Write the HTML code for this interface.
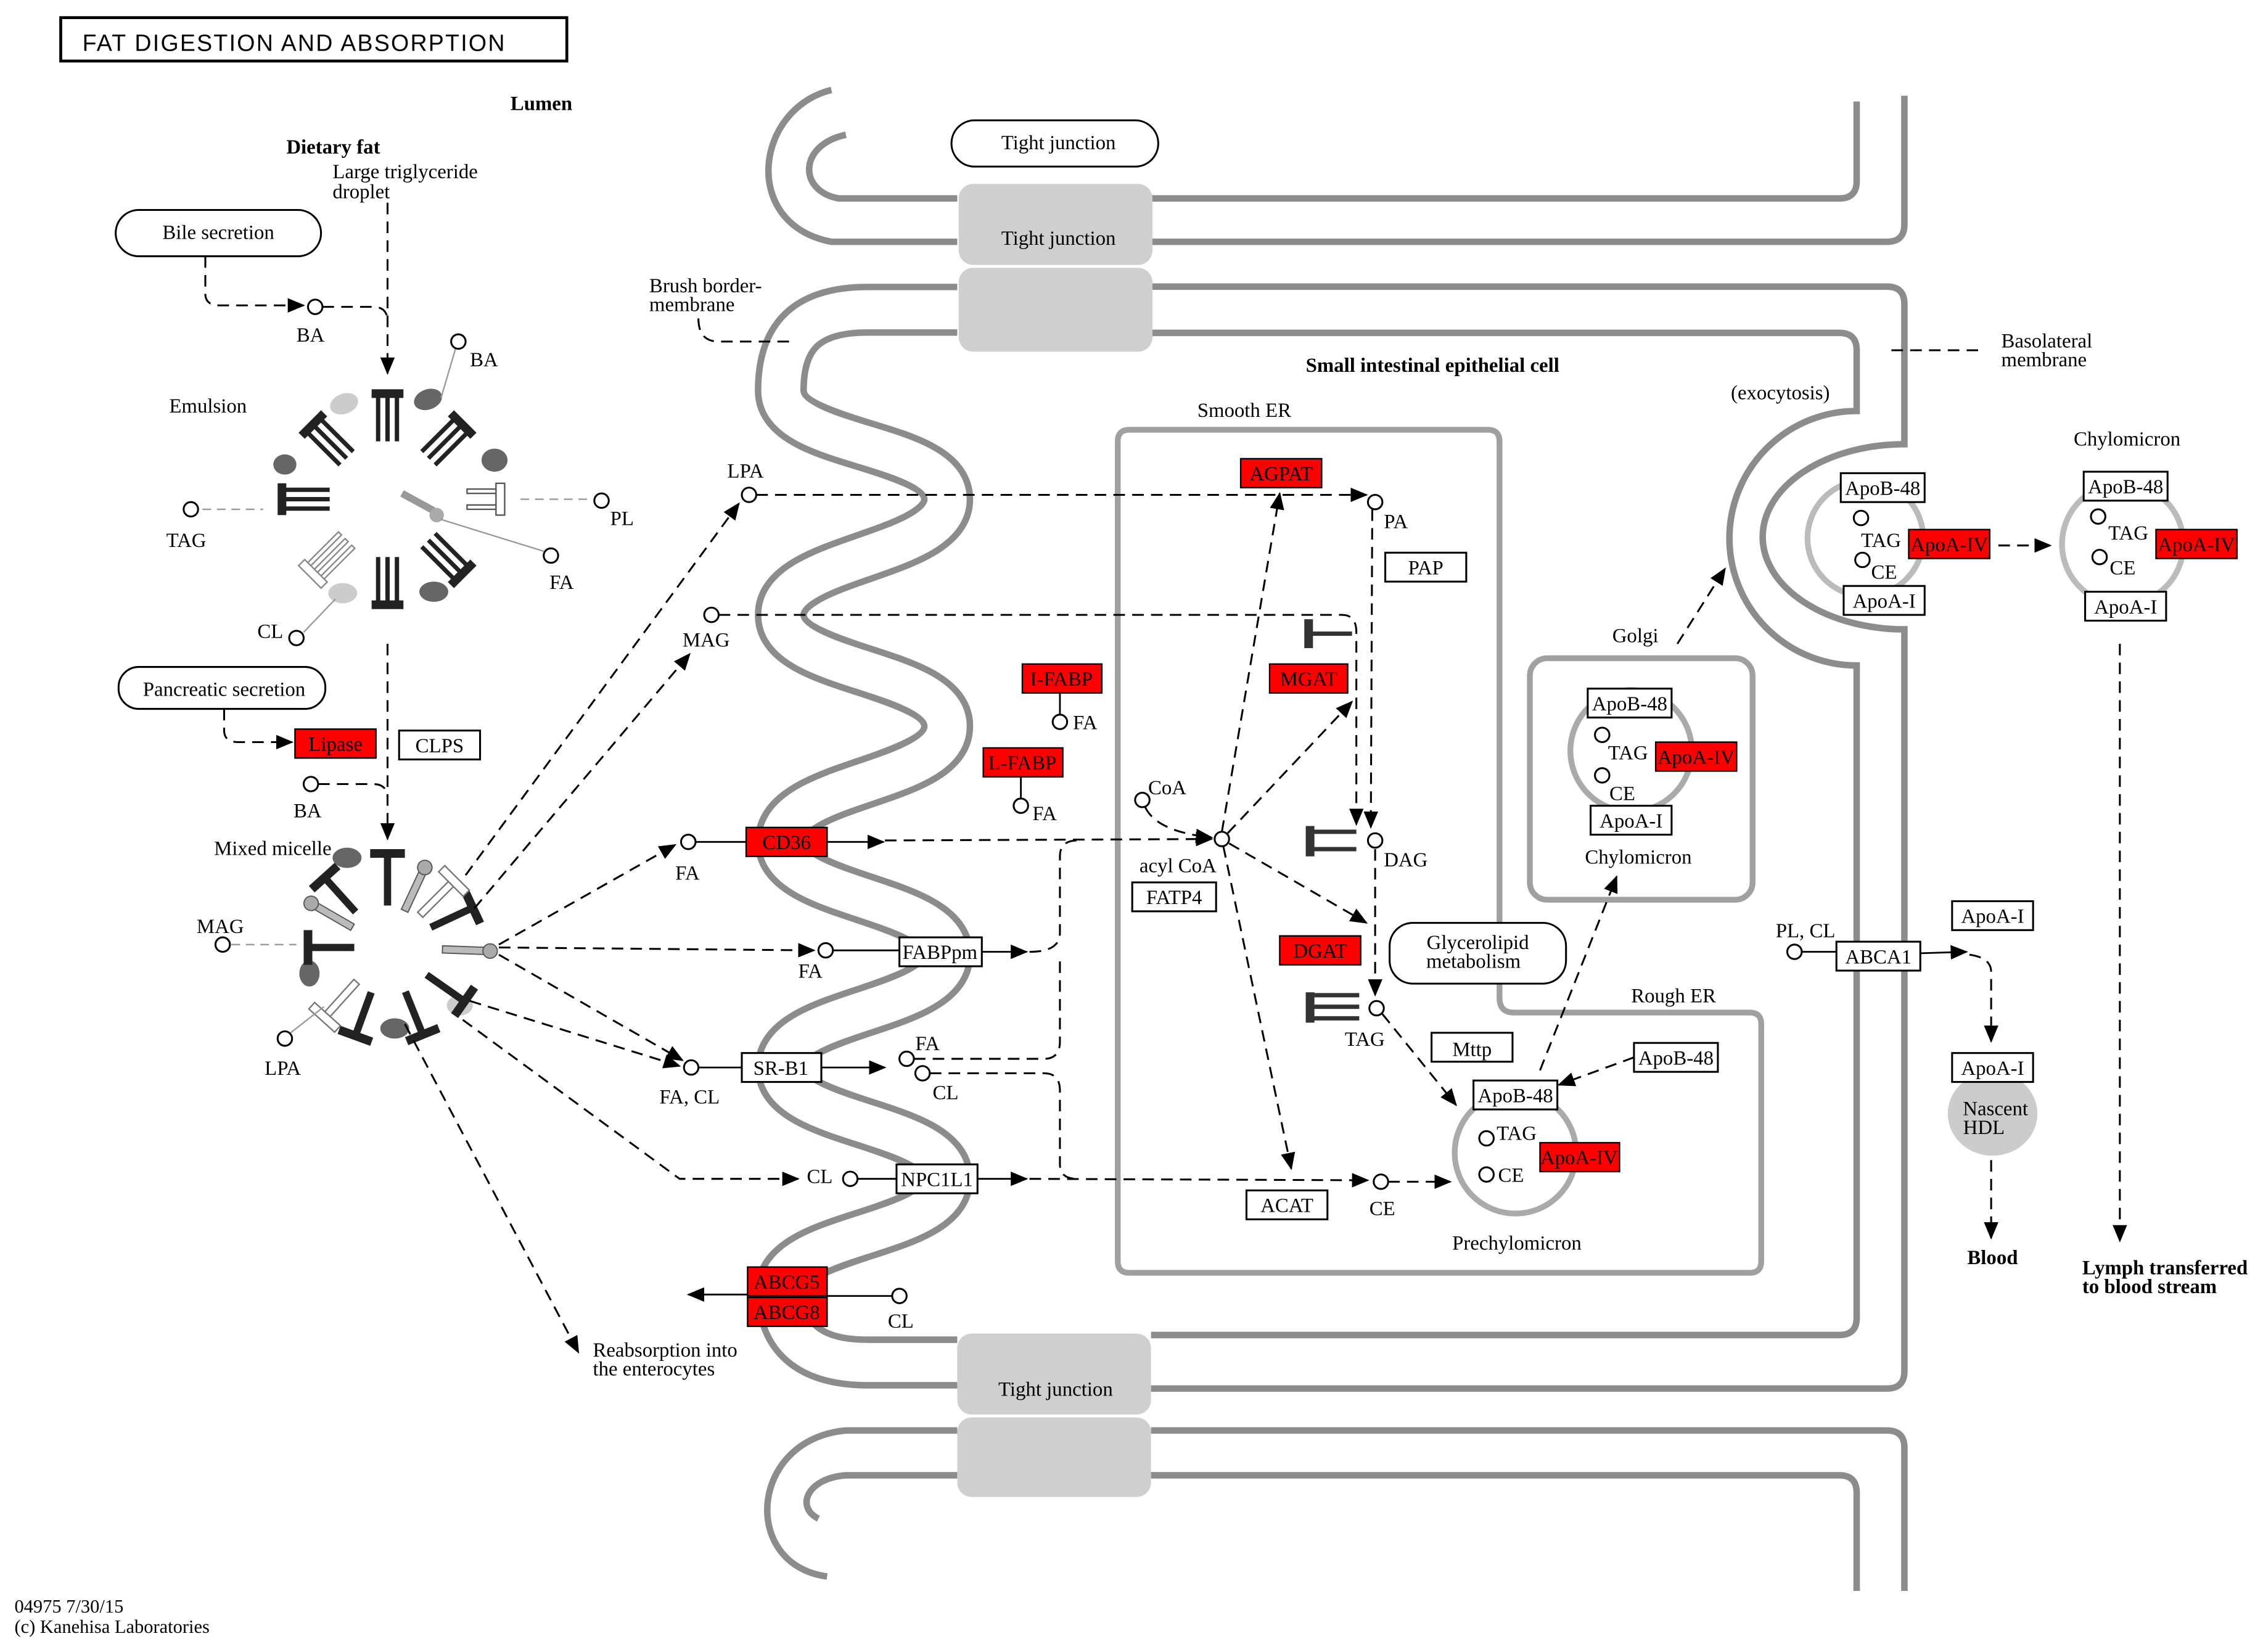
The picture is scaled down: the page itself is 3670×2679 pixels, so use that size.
<!DOCTYPE html>
<html><head><meta charset="utf-8"><style>
html,body{margin:0;padding:0;background:#fff;}
svg{display:block;}
text{font-family:"Liberation Serif",serif;font-size:14px;fill:#000;}
.b{font-weight:bold;}
.c{text-anchor:middle;}
.bx{fill:#fff;stroke:#000;stroke-width:1.3;}
.rd{fill:#f00;stroke:#000;stroke-width:1;}
.rt{fill:#000;}
.d{fill:none;stroke:#000;stroke-width:1.3;stroke-dasharray:8,5;}
.s{fill:none;stroke:#000;stroke-width:1.2;}
.cir{fill:#fff;stroke:#000;stroke-width:1.3;}
.mem{fill:none;stroke:#8c8c8c;stroke-width:4.5;}
.er{fill:none;stroke:#a0a0a0;stroke-width:4;}
.tj{fill:#cfcfcf;}
</style></head><body>
<svg width="3670" height="2679" viewBox="0 0 1565 1142" xmlns="http://www.w3.org/2000/svg">
<defs>
<marker id="a" viewBox="0 0 12 10" refX="11" refY="5" markerWidth="12" markerHeight="10" markerUnits="userSpaceOnUse" orient="auto"><path d="M0,0 L12,5 L0,10 z" fill="#000"/></marker>
</defs>

<!-- Title -->
<rect x="42" y="12" width="350" height="30" fill="#fff" stroke="#000" stroke-width="2"/>
<text x="57" y="35" style="font-family:'Liberation Sans',sans-serif;font-size:16px" textLength="292">FAT DIGESTION AND ABSORPTION</text>
<text x="353" y="76" class="b">Lumen</text>

<!-- Membranes -->
<path class="mem" d="M575,62 C522,75 512,155 575,167 L662,167"/>
<path class="mem" d="M585,93 C552,100 552,132 580,137 L662,137"/>
<path d="M662,214 L600,214 C555,214 540,235 540,270 C540,310 655,305 655,345 C655,385 540,385 540,425 C540,465 655,462 655,502 C655,542 540,540 540,582 C540,622 655,620 655,660 C655,700 540,698 540,738 C540,778 655,775 655,815 C655,855 540,852 540,892 C540,925 560,942 600,942 L662,942" fill="none" stroke="#8c8c8c" stroke-width="36"/>
<path d="M662,214 L600,214 C555,214 540,235 540,270 C540,310 655,305 655,345 C655,385 540,385 540,425 C540,465 655,462 655,502 C655,542 540,540 540,582 C540,622 655,620 655,660 C655,700 540,698 540,738 C540,778 655,775 655,815 C655,855 540,852 540,892 C540,925 560,942 600,942 L662,942" fill="none" stroke="#fff" stroke-width="27"/>
<path class="mem" d="M662,989 L585,989 C518,995 512,1082 572,1090"/>
<path class="mem" d="M662,1020 L585,1020 C558,1022 550,1042 566,1050"/>
<!-- right side membranes -->
<path class="mem" d="M796,137 L1272,137 Q1284,137 1284,125 L1284,70"/>
<path class="mem" d="M796,167 L1305,167 Q1317,167 1317,155 L1317,66"/>
<path class="mem" d="M796,198 L1305,198 Q1317,198 1317,210 L1317,307 A98,64 0 0 0 1317,435 L1317,948 Q1317,960 1305,960 L796,960"/>
<path class="mem" d="M796,230 L1272,230 Q1284,230 1284,242 L1284,284 A88,88 0 0 0 1284,460 L1284,911 Q1284,923 1272,923 L796,923"/>
<path class="mem" d="M796,989 L1305,989 Q1317,989 1317,1001 L1317,1100"/>
<path class="mem" d="M796,1020 L1272,1020 Q1284,1020 1284,1032 L1284,1100"/>
<!-- tight junctions -->
<rect class="tj" x="663" y="127" width="134" height="56" rx="10"/>
<rect class="tj" x="663" y="185" width="134" height="58" rx="10"/>
<rect class="tj" x="662" y="922" width="134" height="56" rx="10"/>
<rect class="tj" x="662" y="980" width="134" height="55" rx="10"/>
<text x="732" y="169" class="c">Tight junction</text>
<text x="730" y="965" class="c">Tight junction</text>
<rect x="658" y="83" width="143" height="32" rx="16" class="bx"/>
<text x="732" y="103" class="c">Tight junction</text>

<!-- ER -->
<path class="er" d="M773,305 Q773,297 781,297 L1029,297 Q1037,297 1037,305 L1037,690 Q1037,700 1047,700 L1210,700 Q1218,700 1218,708 L1218,872 Q1218,880 1210,880 L781,880 Q773,880 773,872 Z"/>
<rect class="er" x="1058" y="455" width="154" height="167" rx="12"/>
<text x="828" y="288">Smooth ER</text>
<text x="1128" y="693">Rough ER</text>
<text x="1115" y="444">Golgi</text>

<!-- Labels -->
<text x="198" y="106" class="b">Dietary fat</text>
<text x="230" y="123">Large triglyceride</text>
<text x="230" y="137">droplet</text>
<text x="903" y="257" class="b">Small intestinal epithelial cell</text>
<text x="1197" y="276">(exocytosis)</text>
<text x="1384" y="240">Basolateral</text>
<text x="1384" y="253">membrane</text>
<path class="d" d="M1308,242 L1372,242"/>
<text x="449" y="202">Brush border-</text>
<text x="449" y="215">membrane</text>
<path class="d" d="M483,220 Q483,236 497,236 L548,236"/>

<!-- Bile secretion -->
<rect x="80" y="145" width="142" height="32" rx="16" class="bx"/>
<text x="151" y="165" class="c">Bile secretion</text>
<path class="d" d="M142,177 L142,203 Q142,211 152,211 L210,211" marker-end="url(#a)"/>
<circle class="cir" cx="218" cy="212" r="5"/>
<text x="205" y="236">BA</text>
<path class="d" d="M223,212 L258,212 Q268,212 268,222"/>
<path class="d" d="M268,140 L268,258" marker-end="url(#a)"/>
<text x="117" y="285">Emulsion</text>

<!-- Emulsion -->
<g id="emul">
<ellipse cx="296" cy="276" rx="10" ry="7" fill="#666" transform="rotate(-20 296 276)"/>
<ellipse cx="238" cy="279" rx="10" ry="7" fill="#ccc" transform="rotate(-20 238 279)"/>
<ellipse cx="197" cy="321" rx="8" ry="7" fill="#666"/>
<ellipse cx="342" cy="318" rx="9" ry="8" fill="#666"/>
<ellipse cx="300" cy="409" rx="10" ry="7" fill="#666"/>
<ellipse cx="237" cy="410" rx="10" ry="7" fill="#ccc"/>
<g transform="translate(268,345)">
 <g><rect x="-11" y="-76" width="22" height="6" fill="#222"/><rect x="-8" y="-72" width="3" height="32" fill="#222"/><rect x="-1.5" y="-72" width="3" height="32" fill="#222"/><rect x="5" y="-72" width="3" height="32" fill="#222"/></g>
 <g transform="rotate(45)"><rect x="-11" y="-76" width="22" height="6" fill="#222"/><rect x="-8" y="-72" width="3" height="32" fill="#222"/><rect x="-1.5" y="-72" width="3" height="32" fill="#222"/><rect x="5" y="-72" width="3" height="32" fill="#222"/></g>
 <g transform="rotate(135)"><rect x="-11" y="-76" width="22" height="6" fill="#222"/><rect x="-8" y="-72" width="3" height="32" fill="#222"/><rect x="-1.5" y="-72" width="3" height="32" fill="#222"/><rect x="5" y="-72" width="3" height="32" fill="#222"/></g>
 <g transform="rotate(180)"><rect x="-11" y="-76" width="22" height="6" fill="#222"/><rect x="-8" y="-72" width="3" height="32" fill="#222"/><rect x="-1.5" y="-72" width="3" height="32" fill="#222"/><rect x="5" y="-72" width="3" height="32" fill="#222"/></g>
 <g transform="rotate(270)"><rect x="-11" y="-76" width="22" height="6" fill="#222"/><rect x="-8" y="-72" width="3" height="32" fill="#222"/><rect x="-1.5" y="-72" width="3" height="32" fill="#222"/><rect x="5" y="-72" width="3" height="32" fill="#222"/></g>
 <g transform="rotate(315)"><rect x="-11" y="-76" width="22" height="6" fill="#222"/><rect x="-8" y="-72" width="3" height="32" fill="#222"/><rect x="-1.5" y="-72" width="3" height="32" fill="#222"/><rect x="5" y="-72" width="3" height="32" fill="#222"/></g>
 <g transform="rotate(225)" fill="#fff" stroke="#888" stroke-width="1"><rect x="-11" y="-76" width="22" height="6"/><rect x="-8" y="-70" width="3" height="30"/><rect x="-1.5" y="-70" width="3" height="30"/><rect x="5" y="-70" width="3" height="30"/></g>
 <g transform="rotate(90)" fill="#fff" stroke="#555" stroke-width="1"><rect x="-11" y="-81" width="22" height="6"/><rect x="-7" y="-75" width="3" height="20"/><rect x="4" y="-75" width="3" height="20"/></g>
 <path d="M10,-4 L32,8" stroke="#999" stroke-width="5"/><circle cx="34" cy="11" r="5" fill="#aaa"/>
</g>
</g>
<line x1="305" y1="275" x2="315" y2="241" stroke="#999"/>
<circle class="cir" cx="317" cy="236" r="5"/><text x="325" y="253">BA</text>
<path d="M140,352 L182,352" stroke="#999" stroke-dasharray="6,4"/>
<circle class="cir" cx="132" cy="352" r="5"/><text x="115" y="378">TAG</text>
<path d="M360,345 L410,345" stroke="#999" stroke-dasharray="6,4"/>
<circle class="cir" cx="416" cy="346" r="5"/><text x="422" y="363">PL</text>
<line x1="305" y1="359" x2="376" y2="381" stroke="#999"/>
<circle class="cir" cx="381" cy="384" r="5"/><text x="380" y="407">FA</text>
<line x1="232" y1="414" x2="210" y2="437" stroke="#999"/>
<circle class="cir" cx="205" cy="441" r="5"/><text x="178" y="441">CL</text>
<path class="d" d="M268,445 L268,580" marker-end="url(#a)"/>

<!-- Pancreatic -->
<rect x="82" y="461" width="143" height="29" rx="14" class="bx"/>
<text x="155" y="481" class="c">Pancreatic secretion</text>
<path class="d" d="M155,490 L155,505 Q155,513 165,513 L202,513" marker-end="url(#a)"/>
<rect class="rd" x="204" y="504" width="56" height="20"/><text x="232" y="519" class="c rt" style="fill:#000">Lipase</text>
<rect class="bx" x="276" y="505" width="56" height="20"/><text x="304" y="520" class="c">CLPS</text>
<circle class="cir" cx="215" cy="542" r="5"/><text x="203" y="565">BA</text>
<path class="d" d="M220,542 L258,542 Q268,542 268,552"/>
<text x="148" y="591">Mixed micelle</text>

<!-- Mixed micelle -->
<ellipse cx="240" cy="593" rx="10" ry="7" fill="#666"/>
<ellipse cx="214" cy="673" rx="7" ry="9" fill="#666"/>
<ellipse cx="273" cy="711" rx="10" ry="7" fill="#666"/>
<ellipse cx="318" cy="695" rx="9" ry="7" fill="#ccc"/>
<g transform="translate(268,655)">
 <g><rect x="-12" y="-68" width="24" height="6" fill="#222"/><rect x="-2.5" y="-63" width="5" height="34" fill="#222"/></g>
 <g transform="rotate(65)"><rect x="-12" y="-68" width="24" height="6" fill="#222"/><rect x="-2.5" y="-63" width="5" height="30" fill="#222"/></g>
 <g transform="rotate(125)"><rect x="-12" y="-68" width="24" height="6" fill="#222"/><rect x="-2.5" y="-63" width="5" height="30" fill="#222"/></g>
 <g transform="rotate(158)"><rect x="-12" y="-68" width="24" height="6" fill="#222"/><rect x="-2.5" y="-63" width="5" height="30" fill="#222"/></g>
 <g transform="rotate(200)"><rect x="-12" y="-68" width="24" height="6" fill="#222"/><rect x="-2.5" y="-63" width="5" height="30" fill="#222"/></g>
 <g transform="rotate(270)"><rect x="-12" y="-58" width="24" height="6" fill="#222"/><rect x="-2.5" y="-53" width="5" height="30" fill="#222"/></g>
 <g transform="rotate(318)"><rect x="-12" y="-68" width="24" height="6" fill="#222"/><rect x="-2.5" y="-63" width="5" height="30" fill="#222"/></g>
 <g transform="rotate(45)" fill="#fff" stroke="#777"><rect x="-12" y="-68" width="24" height="6"/><rect x="-2.5" y="-62" width="5" height="30"/></g>
 <g transform="rotate(222)" fill="#fff" stroke="#777"><rect x="-12" y="-68" width="24" height="6"/><rect x="-2.5" y="-62" width="5" height="30"/></g>
 <g transform="rotate(25)"><rect x="-2.5" y="-58" width="5" height="30" fill="#bbb" stroke="#555" stroke-width="0.8"/><circle cx="0" cy="-61" r="5" fill="#aaa" stroke="#555" stroke-width="0.8"/></g>
 <g transform="rotate(92)"><rect x="-2.5" y="-68" width="5" height="30" fill="#bbb" stroke="#555" stroke-width="0.8"/><circle cx="0" cy="-71" r="5" fill="#aaa" stroke="#555" stroke-width="0.8"/></g>
 <g transform="rotate(300)"><rect x="-2.5" y="-58" width="5" height="30" fill="#bbb" stroke="#555" stroke-width="0.8"/><circle cx="0" cy="-61" r="5" fill="#aaa" stroke="#555" stroke-width="0.8"/></g>
</g>
<text x="136" y="645">MAG</text><circle class="cir" cx="154" cy="653" r="5"/>
<path d="M160,653 L205,653" stroke="#999" stroke-dasharray="6,4"/>
<circle class="cir" cx="197" cy="718" r="5"/><text x="183" y="743">LPA</text>
<line x1="201" y1="714" x2="224" y2="696" stroke="#999"/>

<!-- micelle outgoing -->
<path class="d" d="M322,605 L511,348" marker-end="url(#a)"/>
<path class="d" d="M328,628 L477,452" marker-end="url(#a)"/>
<path class="d" d="M345,653 L467,584" marker-end="url(#a)"/>
<path class="d" d="M345,655 L563,657" marker-end="url(#a)"/>
<path class="d" d="M345,660 L472,733" marker-end="url(#a)"/>
<path class="d" d="M325,692 L470,737" marker-end="url(#a)"/>
<path class="d" d="M320,705 L470,815 L552,815" marker-end="url(#a)"/>
<path class="d" d="M280,708 L400,935" marker-end="url(#a)"/>
<text x="410" y="938">Reabsorption into</text>
<text x="410" y="951">the enterocytes</text>

<!-- LPA -->
<circle class="cir" cx="518" cy="342" r="5"/><text x="503" y="330">LPA</text>
<path class="d" d="M523,342 L945,342" marker-end="url(#a)"/>
<!-- MAG -->
<circle class="cir" cx="492" cy="425" r="5"/><text x="472" y="447">MAG</text>
<path class="d" d="M497,425 L928,425 Q938,425 938,437 L938,570" marker-end="url(#a)"/>

<!-- FA / CD36 -->
<circle class="cir" cx="476" cy="582" r="5"/><text x="467" y="608">FA</text>
<line class="s" x1="481" y1="582" x2="516" y2="582"/>
<rect class="rd" x="516" y="572" width="56" height="20"/><text x="544" y="587" class="c">CD36</text>
<path class="s" d="M572,582 L611,582" marker-end="url(#a)"/>
<path class="d" d="M612,581 L838,580" marker-end="url(#a)"/>
<!-- FABPpm -->
<circle class="cir" cx="571" cy="657" r="5"/><text x="552" y="676">FA</text>
<line class="s" x1="576" y1="657" x2="622" y2="657"/>
<rect class="bx" x="622" y="648" width="57" height="20"/><text x="650" y="663" class="c">FABPpm</text>
<path class="s" d="M679,658 L710,658" marker-end="url(#a)"/>
<path class="d" d="M712,658 Q733,658 733,645 L733,592 Q733,581 745,581"/>
<!-- SR-B1 -->
<circle class="cir" cx="478" cy="738" r="5"/><text x="456" y="763">FA, CL</text>
<line class="s" x1="483" y1="738" x2="513" y2="738"/>
<rect class="bx" x="513" y="728" width="55" height="20"/><text x="540" y="743" class="c">SR-B1</text>
<path class="s" d="M568,738 L612,738" marker-end="url(#a)"/>
<circle class="cir" cx="627" cy="732" r="5"/><text x="633" y="726">FA</text>
<circle class="cir" cx="638" cy="742" r="5"/><text x="645" y="760">CL</text>
<path class="d" d="M632,732 L722,732 Q733,732 733,720 L733,660"/>
<path class="d" d="M643,742 L722,742 Q733,742 733,754 L733,805 Q733,815 745,815"/>
<!-- NPC1L1 -->
<text x="558" y="818">CL</text><circle class="cir" cx="588" cy="815" r="5"/>
<line class="s" x1="593" y1="815" x2="620" y2="815"/>
<rect class="bx" x="620" y="805" width="56" height="20"/><text x="648" y="820" class="c">NPC1L1</text>
<path class="s" d="M676,815 L710,815" marker-end="url(#a)"/>
<path class="d" d="M712,815 L946,816" marker-end="url(#a)"/>
<circle class="cir" cx="955" cy="817" r="5"/><text x="947" y="840">CE</text>
<path class="d" d="M960,817 L1003,817" marker-end="url(#a)"/>
<!-- ABCG -->
<rect class="rd" x="517" y="876" width="55" height="20"/><text x="544" y="891" class="c">ABCG5</text>
<rect class="rd" x="517" y="897" width="55" height="20"/><text x="544" y="912" class="c">ABCG8</text>
<circle class="cir" cx="622" cy="896" r="5"/><text x="614" y="918">CL</text>
<line class="s" x1="617" y1="896" x2="572" y2="896"/>
<path class="s" d="M517,895 L476,895" marker-end="url(#a)"/>

<!-- FABPs -->
<rect class="rd" x="707" y="459" width="55" height="20"/><text x="734" y="474" class="c">I-FABP</text>
<line class="s" x1="733" y1="479" x2="733" y2="494"/><circle class="cir" cx="733" cy="499" r="5"/><text x="742" y="504">FA</text>
<rect class="rd" x="680" y="517" width="55" height="20"/><text x="707" y="532" class="c">L-FABP</text>
<line class="s" x1="706" y1="537" x2="706" y2="552"/><circle class="cir" cx="706" cy="557" r="5"/><text x="714" y="567">FA</text>

<!-- Smooth ER content -->
<rect class="rd" x="858" y="317" width="56" height="20"/><text x="886" y="332" class="c">AGPAT</text>
<circle class="cir" cx="951" cy="347" r="5"/><text x="957" y="365">PA</text>
<rect class="bx" x="958" y="382" width="56" height="20"/><text x="986" y="397" class="c">PAP</text>
<path class="d" d="M949,352 L948,572" marker-end="url(#a)"/>
<rect x="902" y="428" width="6" height="20" fill="#333"/><line x1="905" y1="438" x2="935" y2="438" stroke="#333" stroke-width="3"/>
<rect class="rd" x="878" y="459" width="54" height="20"/><text x="905" y="474" class="c">MGAT</text>
<circle class="cir" cx="790" cy="553" r="5"/><text x="794" y="549">CoA</text>
<path class="d" d="M792,558 Q800,575 838,579" marker-end="url(#a)"/>
<circle class="cir" cx="845" cy="580" r="5"/><text x="788" y="603">acyl CoA</text>
<rect class="bx" x="783" y="610" width="58" height="20"/><text x="812" y="625" class="c">FATP4</text>
<path class="d" d="M845,575 L885,341" marker-end="url(#a)"/>
<path class="d" d="M849,576 L935,485" marker-end="url(#a)"/>
<path class="d" d="M850,583 L945,638" marker-end="url(#a)"/>
<path class="d" d="M846,585 L893,808" marker-end="url(#a)"/>
<rect x="903" y="571" width="6" height="21" fill="#333"/><line x1="906" y1="575" x2="938" y2="575" stroke="#333" stroke-width="3"/><line x1="906" y1="587" x2="938" y2="587" stroke="#333" stroke-width="3"/>
<circle class="cir" cx="951" cy="581" r="5"/><text x="957" y="599">DAG</text>
<path class="d" d="M951,587 L951,688" marker-end="url(#a)"/>
<rect class="rd" x="885" y="647" width="56" height="20"/><text x="913" y="662" class="c">DGAT</text>
<rect x="903" y="686" width="6" height="21" fill="#333"/><line x1="906" y1="688" x2="940" y2="688" stroke="#333" stroke-width="3"/><line x1="906" y1="696" x2="940" y2="696" stroke="#333" stroke-width="3"/><line x1="906" y1="704" x2="940" y2="704" stroke="#333" stroke-width="3"/>
<circle class="cir" cx="952" cy="697" r="5"/><text x="930" y="723">TAG</text>
<path class="d" d="M956,701 L1007,764" marker-end="url(#a)"/>
<rect x="961" y="638" width="122" height="42" rx="16" class="bx"/>
<text x="1022" y="656" class="c">Glycerolipid</text><text x="1019" y="669" class="c">metabolism</text>
<rect class="bx" x="990" y="714" width="56" height="20"/><text x="1018" y="730" class="c">Mttp</text>
<rect class="bx" x="862" y="823" width="56" height="20"/><text x="890" y="838" class="c">ACAT</text>

<!-- Prechylomicron -->
<circle cx="1048" cy="797" r="42" fill="none" stroke="#aaa" stroke-width="4"/>
<rect class="bx" x="1019" y="747" width="58" height="20"/><text x="1048" y="762" class="c">ApoB-48</text>
<circle class="cir" cx="1028" cy="787" r="5"/><text x="1035" y="788">TAG</text>
<circle class="cir" cx="1028" cy="812" r="5"/><text x="1036" y="817">CE</text>
<rect class="rd" x="1065" y="790" width="55" height="20"/><text x="1092" y="805" class="c">ApoA-IV</text>
<text x="1049" y="864" class="c">Prechylomicron</text>
<rect class="bx" x="1130" y="721" width="58" height="20"/><text x="1159" y="736" class="c">ApoB-48</text>
<path class="d" d="M1130,731 L1078,750" marker-end="url(#a)"/>
<path class="d" d="M1065,740 L1118,606" marker-end="url(#a)"/>

<!-- Golgi chylomicron -->
<circle cx="1128" cy="519" r="42" fill="none" stroke="#aaa" stroke-width="4"/>
<rect class="bx" x="1098" y="476" width="58" height="20"/><text x="1127" y="491" class="c">ApoB-48</text>
<circle class="cir" cx="1108" cy="508" r="5"/><text x="1112" y="525">TAG</text>
<circle class="cir" cx="1108" cy="536" r="5"/><text x="1113" y="553">CE</text>
<rect class="rd" x="1145" y="513" width="56" height="20"/><text x="1173" y="528" class="c">ApoA-IV</text>
<rect class="bx" x="1100" y="557" width="56" height="20"/><text x="1128" y="572" class="c">ApoA-I</text>
<text x="1133" y="597" class="c">Chylomicron</text>
<path class="d" d="M1160,445 L1193,393" marker-end="url(#a)"/>

<!-- exocytosis chylomicron -->
<circle cx="1290" cy="372" r="40" fill="none" stroke="#bbb" stroke-width="4"/>
<rect class="bx" x="1273" y="327" width="58" height="20"/><text x="1302" y="342" class="c">ApoB-48</text>
<circle class="cir" cx="1287" cy="358" r="5"/><text x="1287" y="378">TAG</text>
<circle class="cir" cx="1288" cy="387" r="5"/><text x="1294" y="400">CE</text>
<rect class="rd" x="1320" y="366" width="56" height="20"/><text x="1348" y="381" class="c">ApoA-IV</text>
<rect class="bx" x="1275" y="405" width="56" height="20"/><text x="1303" y="420" class="c">ApoA-I</text>
<path class="d" d="M1382,377 L1418,377" marker-end="url(#a)"/>

<!-- right chylomicron -->
<text x="1471" y="308" class="c">Chylomicron</text>
<circle cx="1468" cy="376" r="42" fill="none" stroke="#bbb" stroke-width="4"/>
<rect class="bx" x="1441" y="326" width="58" height="20"/><text x="1470" y="341" class="c">ApoB-48</text>
<circle class="cir" cx="1451" cy="357" r="5"/><text x="1458" y="373">TAG</text>
<circle class="cir" cx="1452" cy="385" r="5"/><text x="1459" y="397">CE</text>
<rect class="rd" x="1491" y="366" width="56" height="20"/><text x="1519" y="381" class="c">ApoA-IV</text>
<rect class="bx" x="1442" y="409" width="56" height="20"/><text x="1470" y="424" class="c">ApoA-I</text>
<path class="d" d="M1466,445 L1466,858" marker-end="url(#a)"/>
<text x="1440" y="881" class="b">Lymph transferred</text>
<text x="1440" y="894" class="b">to blood stream</text>

<!-- ABCA1 / HDL -->
<text x="1228" y="648">PL, CL</text>
<circle class="cir" cx="1241" cy="658" r="5"/>
<line class="s" x1="1246" y1="658" x2="1270" y2="658"/>
<rect class="bx" x="1270" y="651" width="58" height="20"/><text x="1299" y="666" class="c">ABCA1</text>
<path class="s" d="M1328,659 L1360,658" marker-end="url(#a)"/>
<rect class="bx" x="1350" y="623" width="56" height="20"/><text x="1378" y="638" class="c">ApoA-I</text>
<path class="d" d="M1362,660 Q1377,662 1377,672 L1377,720" marker-end="url(#a)"/>
<ellipse cx="1378" cy="770" rx="31" ry="29" fill="#ccc"/>
<rect class="bx" x="1350" y="728" width="56" height="20"/><text x="1378" y="743" class="c">ApoA-I</text>
<text x="1380" y="771" class="c">Nascent</text><text x="1372" y="784" class="c">HDL</text>
<path class="d" d="M1377,802 L1377,856" marker-end="url(#a)"/>
<text x="1378" y="874" class="c b">Blood</text>

<!-- footer -->
<text x="10" y="1115" style="font-size:13px">04975 7/30/15</text>
<text x="10" y="1129" style="font-size:13px">(c) Kanehisa Laboratories</text>
</svg>
</body></html>
